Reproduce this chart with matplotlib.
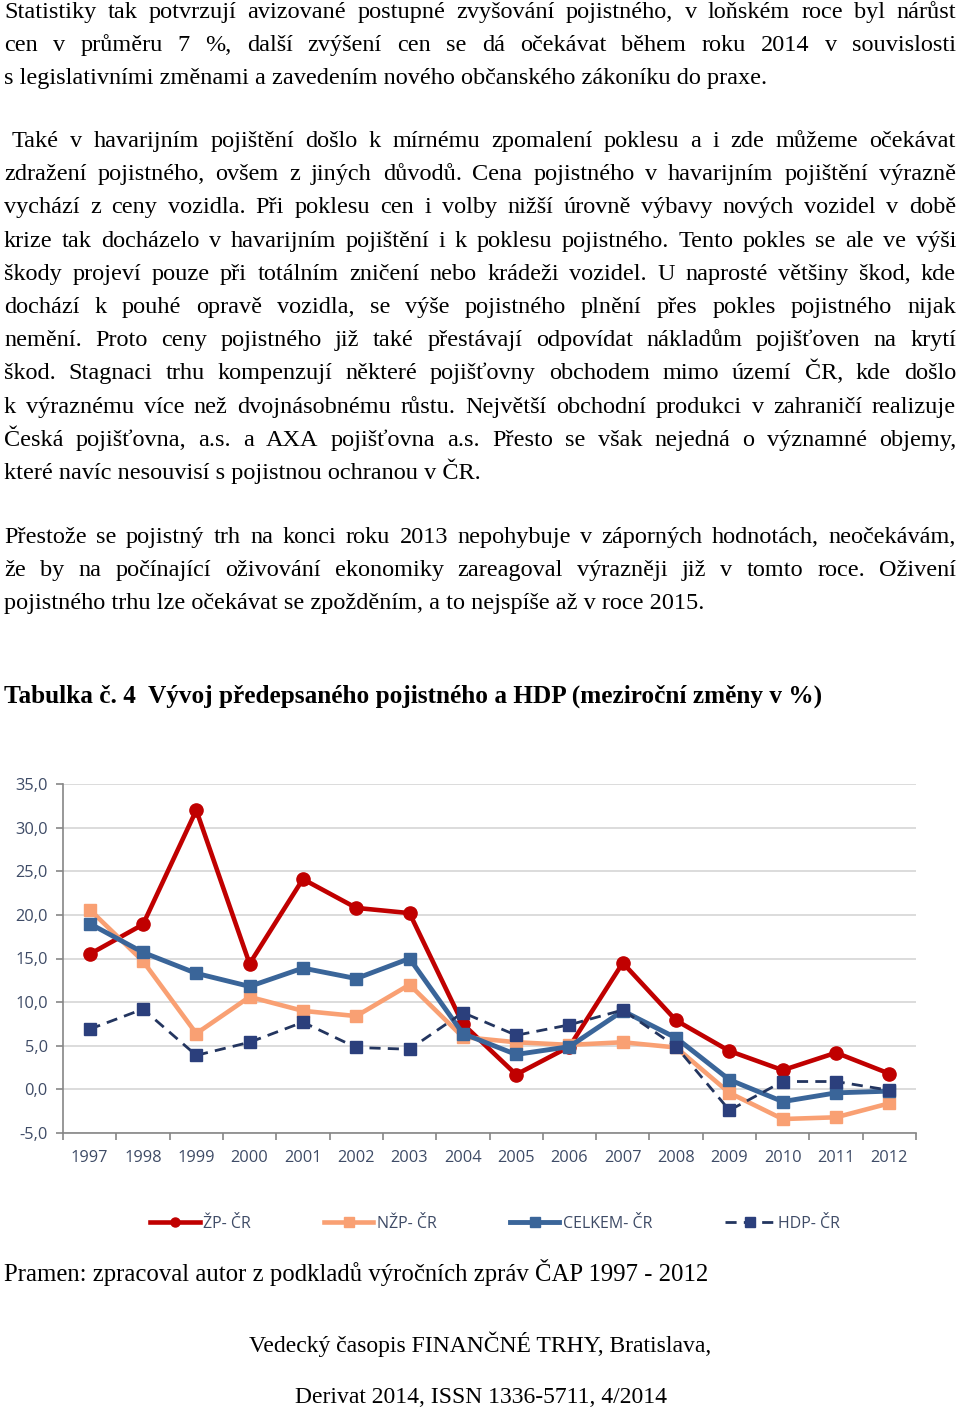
import matplotlib
matplotlib.use("Agg")
import matplotlib.pyplot as plt
from matplotlib.lines import Line2D

# data (mezirocni zmeny v %)
roky = [str(r) for r in range(1997, 2013)]
zp_cr = [15.5, 18.9, 32.0, 14.4, 24.1, 20.8, 20.2, 7.5, 1.7, 4.9, 14.5, 7.9, 4.4, 2.2, 4.2, 1.8]
nzp_cr = [20.6, 14.7, 6.4, 10.6, 9.0, 8.4, 12.0, 6.0, 5.4, 5.1, 5.4, 4.8, -0.4, -3.4, -3.2, -1.6]
celkem_cr = [19.0, 15.7, 13.3, 11.8, 13.9, 12.7, 15.0, 6.4, 4.0, 4.9, 9.0, 5.9, 1.1, -1.4, -0.4, -0.2]
hdp_cr = [6.9, 9.2, 3.9, 5.4, 7.7, 4.8, 4.6, 8.8, 6.2, 7.4, 9.1, 4.9, -2.4, 0.9, 0.9, -0.1]
nazvy = ["ŽP- ČR", "NŽP- ČR", "CELKEM- ČR", "HDP- ČR"]
y_ticks = [-5, 0, 5, 10, 15, 20, 25, 30, 35]

odstavec1 = [
    "Statistiky tak potvrzují avizované postupné zvyšování pojistného, v loňském roce byl nárůst",
    "cen v průměru 7 %, další zvýšení cen se dá očekávat během roku 2014 v souvislosti",
    "s legislativními změnami a zavedením nového občanského zákoníku do praxe.",
]
odstavec2 = [
    "Také v havarijním pojištění došlo k mírnému zpomalení poklesu a i zde můžeme očekávat",
    "zdražení pojistného, ovšem z jiných důvodů. Cena pojistného v havarijním pojištění výrazně",
    "vychází z ceny vozidla. Při poklesu cen i volby nižší úrovně výbavy nových vozidel v době",
    "krize tak docházelo v havarijním pojištění i k poklesu pojistného. Tento pokles se ale ve výši",
    "škody projeví pouze při totálním zničení nebo krádeži vozidel. U naprosté většiny škod, kde",
    "dochází k pouhé opravě vozidla, se výše pojistného plnění přes pokles pojistného nijak",
    "nemění. Proto ceny pojistného již také přestávají odpovídat nákladům pojišťoven na krytí",
    "škod. Stagnaci trhu kompenzují některé pojišťovny obchodem mimo území ČR, kde došlo",
    "k výraznému více než dvojnásobnému růstu. Největší obchodní produkci v zahraničí realizuje",
    "Česká pojišťovna, a.s. a AXA pojišťovna a.s. Přesto se však nejedná o významné objemy,",
    "které navíc nesouvisí s pojistnou ochranou v ČR.",
]
odstavec3 = [
    "Přestože se pojistný trh na konci roku 2013 nepohybuje v záporných hodnotách, neočekávám,",
    "že by na počínající oživování ekonomiky zareagoval výrazněji již v tomto roce. Oživení",
    "pojistného trhu lze očekávat se zpožděním, a to nejspíše až v roce 2015.",
]

W, H = 960, 1408
fig = plt.figure(figsize=(9.6, 14.08), dpi=100)
fig.patch.set_facecolor("white")

# page layer in pixel coordinates (y from top)
page = fig.add_axes([0, 0, 1, 1])
page.set_xlim(0, W)
page.set_ylim(H, 0)
page.axis("off")
rend = fig.canvas.get_renderer()

SERIF = "Liberation Serif"
FS = 17.5


def radek(text, y, x0=4, x1=956, justify=True, fs=FS, **kw):
    kw.setdefault("family", SERIF)
    kw.setdefault("color", "black")
    if not justify:
        page.text(x0, y, text, va="baseline", ha="left", fontsize=fs, **kw)
        return
    slova = text.split()
    arts = [page.text(0, y, s, va="baseline", ha="left", fontsize=fs, **kw) for s in slova]
    sirky = [a.get_window_extent(rend).width for a in arts]
    mezera = (x1 - x0 - sum(sirky)) / (len(slova) - 1)
    if mezera < 3:
        # line too long for this size: shrink it a little
        k = (x1 - x0 - 3 * (len(slova) - 1)) / sum(sirky)
        sirky = [w * k for w in sirky]
        for a in arts:
            a.set_fontsize(fs * k)
        mezera = 3
    x = x0
    for a, w in zip(arts, sirky):
        a.set_x(x)
        x += w + mezera


def odstavec(lines, y0, x_first=4):
    for i, t in enumerate(lines):
        posledni = i == len(lines) - 1
        radek(t, y0 + i * 33.2, x0=x_first if i == 0 else 4, justify=not posledni)


odstavec(odstavec1, 18)
odstavec(odstavec2, 147, x_first=12)
odstavec(odstavec3, 543)

page.text(4, 703, "Tabulka č. 4  Vývoj předepsaného pojistného a HDP (meziroční změny v %)",
          family=SERIF, fontsize=18.2, fontweight="bold", va="baseline")
page.text(4, 1281, "Pramen: zpracoval autor z podkladů výročních zpráv ČAP 1997 - 2012",
          family=SERIF, fontsize=17.8, va="baseline")
page.text(480, 1352, "Vedecký časopis FINANČNÉ TRHY, Bratislava,",
          family=SERIF, fontsize=17, va="baseline", ha="center")
page.text(481, 1403, "Derivat 2014, ISSN 1336-5711, 4/2014",
          family=SERIF, fontsize=17, va="baseline", ha="center")

# chart
ax = fig.add_axes([63 / W, 1 - 1133 / H, (916 - 63) / W, (1133 - 784) / H])
x = list(range(len(roky)))
styly = [
    dict(color="#C00000", marker="o", lw=3.3, ms=9.5, ls="-"),
    dict(color="#F9A073", marker="s", lw=3.3, ms=9, ls="-"),
    dict(color="#3A6599", marker="s", lw=3.5, ms=9, ls="-"),
    dict(color="#23355F", marker="s", lw=2.0, ms=8.5, ls=(0, (4, 2.6)), mfc="#2B3F7C", mec="#2B3F7C"),
]
for vals, st, nm in zip([zp_cr, nzp_cr, celkem_cr, hdp_cr], styly, nazvy):
    ax.plot(x, vals, label=nm, **st)

ax.set_xlim(-0.5, len(roky) - 0.5)
ax.set_ylim(-5, 35)
ax.set_yticks(y_ticks)
ax.set_yticklabels([f"{v:.1f}".replace(".", ",") for v in y_ticks])
ax.set_xticks(x)
ax.set_xticklabels(roky)
ax.set_xticks([i - 0.5 for i in range(len(roky) + 1)], minor=True)
ax.tick_params(axis="x", which="major", length=0, pad=12)
ax.tick_params(axis="x", which="minor", length=5, color="#868686", width=1.2)
ax.tick_params(axis="y", length=5, color="#868686", width=1.2, pad=6)
ax.tick_params(labelsize=11.8, labelcolor="#3E4B66")
for lab in ax.get_xticklabels() + ax.get_yticklabels():
    lab.set_family("Open Sans")
ax.grid(axis="y", color="#D9D9D9", lw=1.3)
ax.set_axisbelow(True)
for s in ["top", "right"]:
    ax.spines[s].set_visible(False)
for s in ["left", "bottom"]:
    ax.spines[s].set_color("#868686")
    ax.spines[s].set_linewidth(1.2)

handles = [Line2D([], [], **{**st, "ms": 6.5}) for st in styly]
leg = fig.legend(handles, nazvy, loc="center", bbox_to_anchor=(495 / W, 1 - 1224 / H),
                 ncol=4, frameon=False, handlelength=3.1, columnspacing=4.6,
                 handletextpad=0.2, prop={"family": "Open Sans", "size": 11.5})
for t in leg.get_texts():
    t.set_color("#3E4B66")

fig.savefig("out.png", dpi=100, facecolor="white")
